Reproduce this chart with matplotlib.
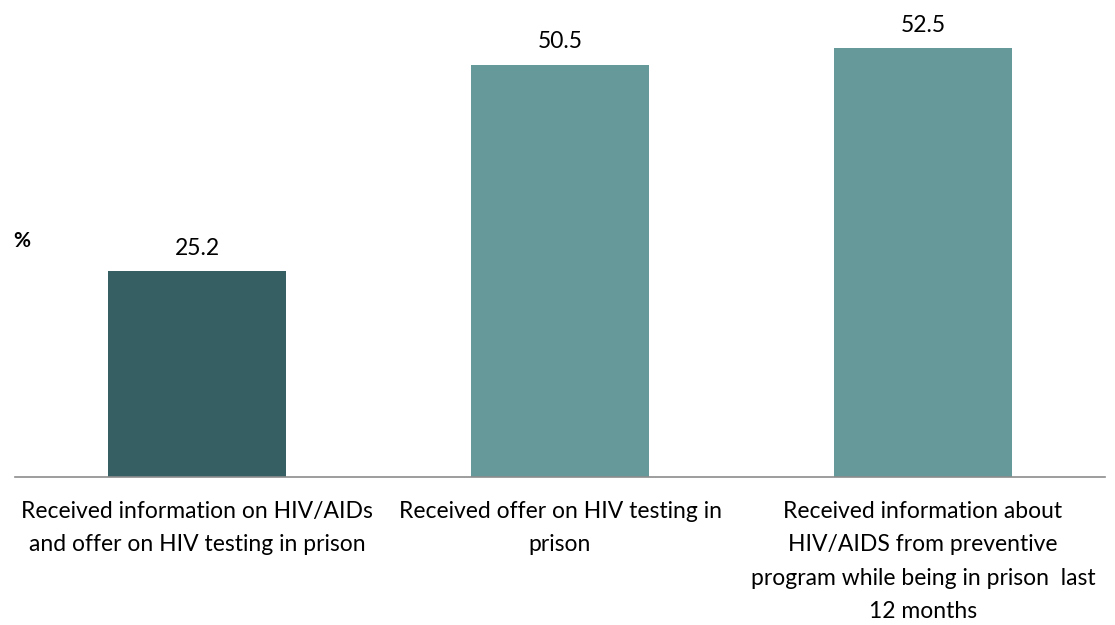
import matplotlib
matplotlib.use("Agg")
import matplotlib.pyplot as plt

categories = [
    "Received information on HIV/AIDs\nand offer on HIV testing in prison",
    "Received offer on HIV testing in\nprison",
    "Received information about\nHIV/AIDS from preventive\nprogram while being in prison  last\n12 months",
]
values = [25.2, 50.5, 52.5]
colors = ["#355f63", "#669a9a", "#669a9a"]

plt.rcParams["font.family"] = ["Lato", "DejaVu Sans"]

fig = plt.figure(figsize=(11.15, 6.25), dpi=100)
ax = fig.add_axes([0.0139, 0.2368, 0.9767, 0.7632])

x = range(len(values))
ax.bar(x, values, width=0.49, color=colors)
for xi, v in zip(x, values):
    ax.annotate(f"{v}", (xi, v), xytext=(0, 9), textcoords="offset points",
                ha="center", va="bottom", fontsize=16.5, color="#000000")

ax.set_xlim(-0.5, len(values) - 0.5)
ax.set_ylim(0, 58.4)
ax.set_xticks(list(x))
ax.set_xticklabels(categories, fontsize=16.5, linespacing=1.74)
ax.tick_params(axis="x", length=0, pad=17)
ax.set_yticks([])
for s in ["top", "right", "left"]:
    ax.spines[s].set_visible(False)
ax.spines["bottom"].set_color("#8c8c8c")
ax.spines["bottom"].set_linewidth(1.2)

fig.text(0.012, 0.614, "%", fontsize=15, fontweight="bold", ha="left", va="center")

fig.savefig("out.png", dpi=100)
